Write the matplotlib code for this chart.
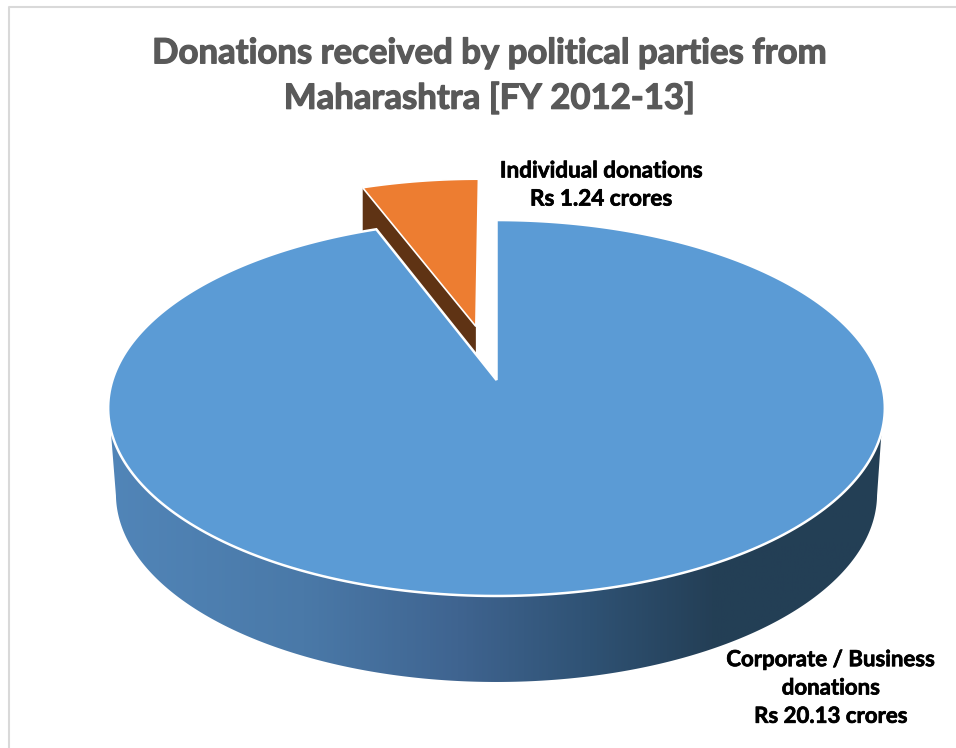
import matplotlib

matplotlib.use("Agg")
import matplotlib.patheffects as pe
import matplotlib.pyplot as plt
import numpy as np
from matplotlib.colors import LinearSegmentedColormap
from matplotlib.patches import Polygon

TITLE = "Donations received by political parties from\nMaharashtra [FY 2012-13]"
categories = ["Corporate / Business\ndonations", "Individual donations"]
values = [20.13, 1.24]
slice_colors = ["#5B9BD5", "#ED7D31"]
explode = [0.0, 0.31]

# pixel geometry of the tilted disc
CX, CY = 496.5, 380.0
RX, RY = 384.0, 183.8
PERSPECTIVE = 0.149
DEPTH = 86.0
BOTTOM_SCALE = 0.98


def project(u, v, scale=1.0, drop=0.0):
    """Map disc coordinates (u right, v away) to pixels."""
    den = 1 + PERSPECTIVE * v
    return CX + scale * RX * u / den, CY + drop - RY * v / den


def wedge_points(start, end, shift=0.0):
    """Outline of a slice, angles in radians clockwise from the top."""
    mid = (start + end) / 2
    ou, ov = shift * np.sin(mid), shift * np.cos(mid)
    t = np.linspace(start, end, 300)
    us = np.r_[ou, ou + np.sin(t)]
    vs = np.r_[ov, ov + np.cos(t)]
    return np.column_stack(project(us, vs))


def draw_side(ax):
    """Front wall of the big slice, shaded from left to right."""
    t_top = np.radians(np.linspace(106, 255, 400))
    t_low = np.radians(np.linspace(261, 99, 400))
    top = np.column_stack(project(np.sin(t_top), np.cos(t_top)))
    low = np.column_stack(
        project(np.sin(t_low), np.cos(t_low), BOTTOM_SCALE, DEPTH)
    )
    outline = Polygon(
        np.vstack([top, low]), closed=True, fc="none", ec="none", transform=ax.transData
    )
    ax.add_patch(outline)
    cmap = LinearSegmentedColormap.from_list(
        "side",
        [
            (0.0, "#5185B8"),
            (0.25, "#4A79A8"),
            (0.45, "#3F6490"),
            (0.62, "#2F5274"),
            (0.78, "#243F56"),
            (1.0, "#233F55"),
        ],
    )
    img = ax.imshow(
        np.linspace(0, 1, 512)[None, :],
        cmap=cmap,
        extent=(110, 884, 690, 400),
        aspect="auto",
        zorder=1,
    )
    img.set_clip_path(outline)


def main():
    fig = plt.figure(figsize=(9.56, 7.48), dpi=100)
    ax = fig.add_axes([0, 0, 1, 1])
    plt.rcParams["font.family"] = ["Lato", "DejaVu Sans"]

    fractions = np.array(values) / sum(values)
    angles = np.cumsum(np.r_[0, fractions]) * 2 * np.pi

    draw_side(ax)

    # inner wall of the pulled out slice, mostly hidden by the big slice
    small = wedge_points(angles[1], angles[2], explode[1])
    apex, corner = small[0], small[1]
    wall = np.array(
        [apex, corner, corner + [0, DEPTH], apex + [0, DEPTH]]
    )
    ax.add_patch(Polygon(wall, closed=True, fc="#5F3314", ec="none", zorder=2))
    ax.add_patch(
        Polygon(small, closed=True, fc=slice_colors[1], ec="white", lw=1.2, zorder=3)
    )

    big = wedge_points(angles[0], angles[1], explode[0])
    ax.add_patch(
        Polygon(big, closed=True, fc=slice_colors[0], ec="white", lw=1.8, zorder=4)
    )

    # Lato bold runs a little light against the original, so thicken the strokes
    title_fx = [pe.withStroke(linewidth=0.9, foreground="#595959")]
    label_fx = [pe.withStroke(linewidth=0.5, foreground="black")]
    ax.text(
        489.5, 76, TITLE, ha="center", va="center", fontsize=25, fontweight="bold",
        color="#595959", linespacing=1.5, path_effects=title_fx,
    )
    ax.text(
        601, 185, f"{categories[1]}\nRs {values[1]} crores", ha="center", va="center",
        fontsize=16.2, fontweight="bold", color="black", linespacing=1.42,
        path_effects=label_fx,
    )
    ax.text(
        831, 688, f"{categories[0]}\nRs {values[0]} crores", ha="center", va="center",
        fontsize=16, fontweight="bold", color="black", linespacing=1.43,
        path_effects=label_fx,
    )

    # chart frame, cut off by the screenshot on the right and at the bottom
    ax.plot([9, 9, 956], [748, 7, 7], color="#D9D9D9", lw=1.5, zorder=0)

    ax.set_xlim(0, 956)
    ax.set_ylim(748, 0)
    ax.axis("off")
    fig.savefig("out.png", dpi=100)


if __name__ == "__main__":
    main()
